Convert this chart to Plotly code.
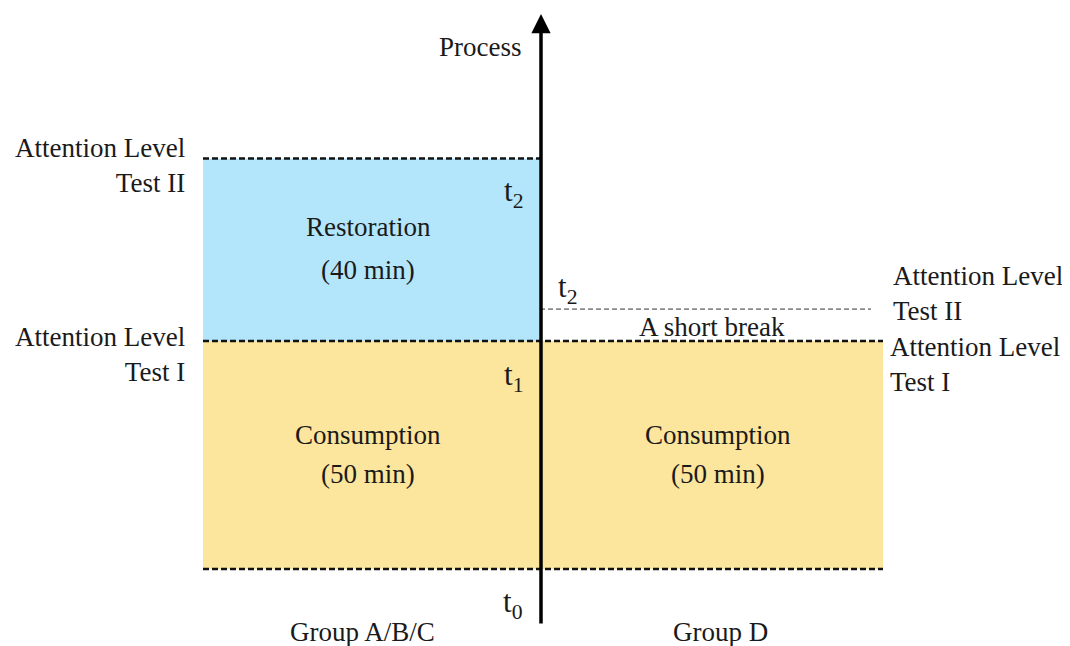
import plotly.graph_objects as go

# Data (minutes along the process axis)
phases_left = ["Consumption", "Restoration"]
durations_left = [50, 40]
phases_right = ["Consumption"]
durations_right = [50]
short_break = 7  # estimated, minutes
time_labels_left = ["t<sub>0</sub>", "t<sub>1</sub>", "t<sub>2</sub>"]
groups = ["Group A/B/C", "Group D"]

t0 = 0
t1 = t0 + durations_left[0]
t2 = t1 + durations_left[1]
t2_right = t1 + short_break

# Layout geometry (pixel-like x, minutes y); page body has an 8px margin
OFF = 8
W, H = 1070, 646
XL0, XMID, XR1 = 203, 540, 883
PX_PER_MIN = 4.56
Y_BASE_PX = 569
def ypx(p):
    return (Y_BASE_PX - p) / PX_PER_MIN

FONT = "Liberation Serif, Times New Roman, serif"
FS = 27
FS_T = 31
TXT = "#1a1a1a"
BLUE = "#B3E5FB"
YELLOW = "#FCE59C"

fig = go.Figure()
shapes = []
shapes.append(dict(type="rect", xref="x", yref="y", x0=XL0, x1=XMID, y0=t0, y1=t1,
                   fillcolor=YELLOW, line=dict(width=0), layer="below"))
shapes.append(dict(type="rect", xref="x", yref="y", x0=XL0, x1=XMID, y0=t1, y1=t2,
                   fillcolor=BLUE, line=dict(width=0), layer="below"))
shapes.append(dict(type="rect", xref="x", yref="y", x0=XMID, x1=XR1, y0=t0, y1=t1,
                   fillcolor=YELLOW, line=dict(width=0), layer="below"))
thick = dict(color="#111111", width=2.5, dash="6px,3px")
thin = dict(color="#333333", width=1, dash="5px,3px")
shapes.append(dict(type="line", xref="x", yref="y", x0=XL0, x1=XR1, y0=t0, y1=t0, line=thick))
shapes.append(dict(type="line", xref="x", yref="y", x0=XL0, x1=XR1, y0=t1, y1=t1, line=thick))
shapes.append(dict(type="line", xref="x", yref="y", x0=XL0, x1=XMID, y0=t2, y1=t2, line=thick))
shapes.append(dict(type="line", xref="x", yref="y", x0=XMID, x1=871, y0=t2_right, y1=t2_right, line=thin))

anns = []
anns.append(dict(x=541, y=ypx(14), ax=541, ay=ypx(625), xref="x", yref="y", axref="x", ayref="y",
                 showarrow=True, arrowhead=2, arrowsize=1.1, arrowwidth=3.5, arrowcolor="#000000", text=""))

def txt(x, y, s, xanchor="center", align="center", size=FS):
    anns.append(dict(x=x, y=y, xref="x", yref="y", text=s, showarrow=False, xanchor=xanchor,
                     yanchor="middle", align=align, font=dict(family=FONT, size=size, color=TXT)))

txt(480, ypx(47), "Process")
txt(187, ypx(165), "Attention Level<br>Test II", xanchor="right", align="right")
txt(187, ypx(354), "Attention Level<br>Test I", xanchor="right", align="right")
txt(891, ypx(293.5), "Attention Level<br>Test II", xanchor="left", align="left")
txt(888, ypx(364.5), "Attention Level<br>Test I", xanchor="left", align="left")
txt(513, t2 - 7.5, time_labels_left[2], size=FS_T)
txt(513, t1 - 8, time_labels_left[1], size=FS_T)
txt(513, t0 - 7.7, time_labels_left[0], size=FS_T)
txt(567, t2_right + 4.5, "t<sub>2</sub>", size=FS_T)
txt(712, t1 + 3, "A short break")
txt(368, (t1 + t2) / 2 + 5, phases_left[1])
txt(368, (t1 + t2) / 2 - 4.5, f"({durations_left[1]} min)")
txt(368, (t0 + t1) / 2 + 4.4, phases_left[0])
txt(368, (t0 + t1) / 2 - 4.2, f"({durations_left[0]} min)")
txt(718, (t0 + t1) / 2 + 4.4, phases_right[0])
txt(718, (t0 + t1) / 2 - 4.2, f"({durations_right[0]} min)")
txt(362, ypx(632), groups[0])
txt(720, ypx(632), groups[1])

fig.update_layout(
    width=W - OFF, height=H - OFF, margin=dict(l=0, r=0, t=0, b=0, pad=0),
    paper_bgcolor="white", plot_bgcolor="white", showlegend=False,
    shapes=shapes, annotations=anns,
    xaxis=dict(range=[OFF, W], visible=False, fixedrange=True),
    yaxis=dict(range=[ypx(H), ypx(OFF)], visible=False, fixedrange=True),
)
fig.write_html("out.html", config={"displayModeBar": False})
